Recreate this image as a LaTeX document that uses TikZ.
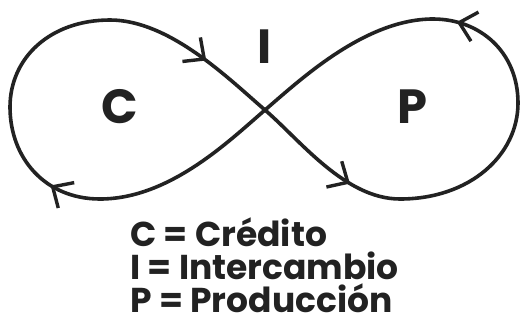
\documentclass[tikz,border=0pt]{standalone}
\usepackage{fontspec}
\setmainfont{Poppins}[BoldFont={* Bold}]
\usetikzlibrary{decorations.markings,arrows.meta}
\definecolor{ink}{HTML}{222222}
\tikzset{
  loopline/.style={draw=ink,line width=3.6pt,line cap=round},
  arrowmark/.style={postaction={decorate,decoration={markings,
     mark=at position #1 with {\arrow[ink]{Straight Barb[length=16pt,width=30pt,line width=3.4pt]}}}}},
  bigletter/.style={font=\fontsize{48}{48}\selectfont\bfseries,text=ink,inner sep=0pt},
  legend/.style={font=\fontsize{34.5}{34.5}\selectfont\bfseries,text=ink,inner sep=0pt,anchor=base west}
}
\begin{document}
\begin{tikzpicture}[x=1pt,y=-1pt]
\useasboundingbox[fill=white] (0,0) rectangle (522,325);
\coordinate (X) at (265,110);
\coordinate (Rb) at (400,199);
\coordinate (Rr) at (518,103);
\coordinate (Rt) at (433,19);
\coordinate (Lb) at (100,199);
\coordinate (Ll) at (10,107);
\coordinate (Lt) at (110,20);
% right loop
\draw[loopline,arrowmark=0.68] (X) .. controls (300,140) and (345,199) .. (Rb);
\draw[loopline] (Rb) .. controls (470,199) and (518,155) .. (Rr);
\draw[loopline,arrowmark=0.82] (Rr) .. controls (518,52) and (480,19) .. (Rt);
\draw[loopline] (Rt) .. controls (365,19) and (300,80) .. (X);
% left loop
\draw[loopline] (X) .. controls (230,140) and (170,199) .. (Lb);
\draw[loopline,arrowmark=0.36] (Lb) .. controls (45,199) and (10,158) .. (Ll);
\draw[loopline] (Ll) .. controls (10,58) and (50,20) .. (Lt);
\draw[loopline,arrowmark=0.58] (Lt) .. controls (170,20) and (230,80) .. (X);
% letters
\node[bigletter] (c) at (120,107) {C};
\node[bigletter] (p) at (412,107) {P};
\node[bigletter] (i) at (265,47) {I};
% legend
\node[legend] (l1) at (130,246) {C = Crédito};
\node[legend] (l2) at (130,279) {I = Intercambio};
\node[legend] (l3) at (130,312) {P = Producción};
\end{tikzpicture}
\end{document}
